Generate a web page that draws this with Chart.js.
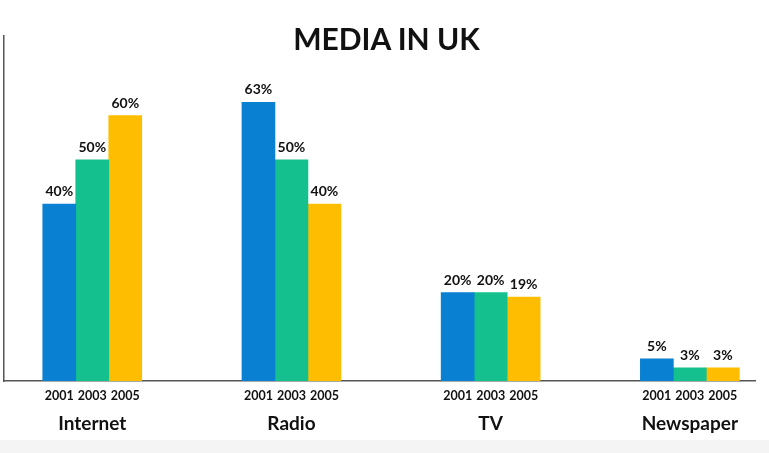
<!DOCTYPE html>
<html lang="en">
<head>
    <meta charset="UTF-8">
    <title>Media in UK</title>
    <script src="https://cdn.jsdelivr.net/npm/chart.js"></script>
    <style>
        body {
            margin: 0;
            background: #f4f4f4;
            font-family: Lato, sans-serif;
        }
        .wrap {
            position: relative;
            width: 769px;
            height: 440px;
            background: #fff;
        }
        .chart-title {
            position: absolute;
            top: 23px;
            left: 0;
            width: 773px;
            text-align: center;
            font: bold 30px/30px Lato, sans-serif;
            color: #111;
        }
    </style>
</head>
<body>
    <div class="wrap">
        <canvas id="mediaChart"></canvas>
        <div class="chart-title">MEDIA IN UK</div>
    </div>

    <script>
        const categories = ['Internet', 'Radio', 'TV', 'Newspaper'];
        const years = ['2001', '2003', '2005'];
        const share2001 = [40, 63, 20, 5];
        const share2003 = [50, 50, 20, 3];
        const share2005 = [60, 40, 19, 3];
        const colors = ['#0a80d2', '#13c08e', '#ffbd00'];

        const toPoints = arr => arr.map((v, i) => ({ x: i, y: v }));

        // value labels above bars, year labels under the axis
        const barText = {
            id: 'barText',
            afterDatasetsDraw(chart) {
                const ctx = chart.ctx;
                const bottom = chart.chartArea.bottom;
                ctx.save();
                ctx.fillStyle = '#111';
                ctx.textAlign = 'center';
                ctx.textBaseline = 'alphabetic';
                chart.data.datasets.forEach((ds, di) => {
                    const meta = chart.getDatasetMeta(di);
                    meta.data.forEach((bar, i) => {
                        ctx.font = 'bold 14px Lato, sans-serif';
                        ctx.fillText(ds.data[i].y + '%', bar.x, bar.y - 8);
                        ctx.font = 'bold 12.5px Lato, sans-serif';
                        ctx.fillText(years[di], bar.x, bottom + 19);
                    });
                });
                ctx.restore();
            }
        };

        new Chart(document.getElementById('mediaChart'), {
            type: 'bar',
            data: {
                datasets: [
                    { label: years[0], data: toPoints(share2001), backgroundColor: colors[0] },
                    { label: years[1], data: toPoints(share2003), backgroundColor: colors[1] },
                    { label: years[2], data: toPoints(share2005), backgroundColor: colors[2] }
                ]
            },
            options: {
                responsive: true,
                maintainAspectRatio: false,
                animation: false,
                barThickness: 33,
                layout: {
                    padding: { top: 36, left: 4, right: 0, bottom: 0 }
                },
                plugins: {
                    legend: { display: false },
                    tooltip: { enabled: false }
                },
                scales: {
                    x: {
                        type: 'linear',
                        min: -0.443,
                        max: 3.329,
                        offset: false,
                        grid: { display: false, drawTicks: false },
                        border: { color: '#555', width: 1.5 },
                        afterFit: scale => { scale.height = 59; },
                        ticks: {
                            stepSize: 1,
                            includeBounds: false,
                            autoSkip: false,
                            maxRotation: 0,
                            padding: 31,
                            color: '#111',
                            font: { family: 'Lato', size: 19, weight: 'bold' },
                            callback: v => Number.isInteger(v) ? categories[v] : ''
                        }
                    },
                    y: {
                        min: 0,
                        max: 78,
                        grid: { display: false, drawTicks: false },
                        border: { color: '#555', width: 1.5 },
                        ticks: { display: false }
                    }
                }
            },
            plugins: [barText]
        });
    </script>
</body>
</html>
